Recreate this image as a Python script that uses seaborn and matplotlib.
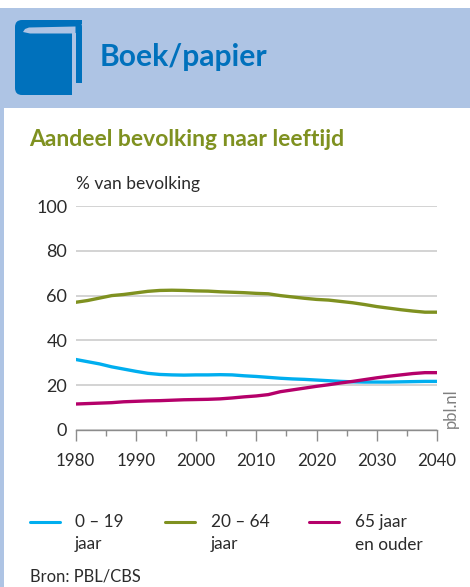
import matplotlib
matplotlib.use("Agg")
import matplotlib.pyplot as plt
from matplotlib.patches import Rectangle, FancyBboxPatch, Polygon
from matplotlib.lines import Line2D
from matplotlib.transforms import Affine2D
import pandas as pd
import seaborn as sns

years = list(range(1980, 2041, 2))
jong = [31.5, 30.5, 29.5, 28.2, 27.2, 26.2, 25.3, 24.8, 24.6, 24.5, 24.6, 24.6, 24.7, 24.6, 24.2, 23.9,
        23.5, 23.1, 22.8, 22.6, 22.3, 22.0, 21.7, 21.5, 21.4, 21.4, 21.4, 21.5, 21.6, 21.7, 21.7]
midden = [57.0, 57.8, 58.9, 60.0, 60.5, 61.2, 61.9, 62.3, 62.4, 62.3, 62.1, 62.0, 61.7, 61.5, 61.3, 61.0,
          60.8, 60.0, 59.4, 58.8, 58.3, 58.0, 57.4, 56.8, 56.0, 55.1, 54.4, 53.7, 53.1, 52.6, 52.6]
oud = [11.6, 11.8, 12.0, 12.2, 12.6, 12.8, 13.0, 13.1, 13.3, 13.5, 13.6, 13.7, 13.9, 14.3, 14.8, 15.2,
       15.8, 17.1, 17.9, 18.7, 19.5, 20.2, 21.0, 21.7, 22.5, 23.3, 24.0, 24.6, 25.2, 25.6, 25.6]
series_names = ["0 – 19\njaar", "20 – 64\njaar", "65 jaar\nen ouder"]
colors = ["#00aeef", "#7f9120", "#b5006a"]
x_ticks = [1980, 1990, 2000, 2010, 2020, 2030, 2040]
x_minor = [1985, 1995, 2005, 2015, 2025, 2035]
y_ticks = [0, 20, 40, 60, 80, 100]

W, H = 470, 587
sns.set_theme(style="white")
plt.rcParams["font.family"] = ["Lato", "DejaVu Sans"]
TXT = "#2b2b2b"
fig = plt.figure(figsize=(W / 100, H / 100), dpi=100, facecolor="white")
PX = Affine2D().scale(1 / W, -1 / H).translate(0, 1) + fig.transFigure

def fx(x): return x / W
def fy(y): return 1 - y / H

def rect(x0, y0, x1, y1, c, z=0):
    fig.patches.append(Rectangle((x0, y0), x1 - x0, y1 - y0, transform=PX, fc=c, ec="none", zorder=z))

BAND = "#aec4e4"
BLUE = "#0071bc"
rect(0, 8, 470, 108, BAND)
rect(0, 108, 4, 587, BAND)

# boek-icoon
def rrect(x0, y0, x1, y1, r, c, z):
    fig.patches.append(FancyBboxPatch((x0 + r, y0 + r), x1 - x0 - 2 * r, y1 - y0 - 2 * r,
                                      boxstyle=f"round,pad={r},rounding_size={r}",
                                      transform=PX, fc=c, ec="none", zorder=z))
rrect(15, 20, 82, 95, 7, BLUE, 1)
rect(76, 20, 82, 24, BLUE, 1.5)
rect(72, 83, 83, 96, BAND, 2)
rrect(75.5, 70, 82, 83, 1.5, BLUE, 2.5)
rect(72, 33, 75.5, 96, BAND, 3)
fig.patches.append(Polygon([(23, 32), (25, 29), (29, 27.5), (75.5, 26.5), (75.5, 33.5), (30, 33.5)],
                           closed=True, transform=PX, fc=BAND, ec="none", zorder=3))
rect(66, 90, 72, 95, BLUE, 3)

fig.text(fx(100), fy(57), "Boek/papier", color=BLUE, fontsize=21.6, fontweight="bold", va="center", ha="left")
fig.text(fx(29), fy(139.5), "Aandeel bevolking naar leeftijd", color="#7f9120", fontsize=16.5, fontweight="bold",
         va="center", ha="left")
fig.text(fx(76), fy(184), "% van bevolking", color=TXT, fontsize=12.5, va="center", ha="left")

ax = fig.add_axes([fx(75.5), fy(430), (437 - 75.5) / W, (430 - 206) / H])
ax.patch.set_alpha(0)
df = pd.DataFrame({"jaar": years * 3,
                   "aandeel": jong + midden + oud,
                   "groep": [n for n in series_names for _ in years]})
sns.lineplot(data=df, x="jaar", y="aandeel", hue="groep", palette=colors, hue_order=series_names,
             linewidth=2.4, legend=False, ax=ax, clip_on=True, zorder=3)
ax.set_xlim(1980, 2040)
ax.set_ylim(0, 100)
ax.set_xlabel("")
ax.set_ylabel("")
ax.set_yticks(y_ticks)
ax.set_xticks(x_ticks)
ax.set_xticks(x_minor, minor=True)
ax.grid(axis="y", color="#cccccc", lw=1.2, zorder=1)
ax.grid(axis="x", visible=False)
for s in ["top", "right", "left"]:
    ax.spines[s].set_visible(False)
ax.spines["bottom"].set_color("#8c8c8c")
ax.spines["bottom"].set_linewidth(1)
ax.tick_params(axis="x", which="major", length=8, width=1, color="#8c8c8c", pad=8.5, labelsize=12.2, labelcolor=TXT, bottom=True)
ax.tick_params(axis="x", which="minor", length=4, width=1, color="#8c8c8c", bottom=True)
ax.tick_params(axis="y", length=0, pad=6, labelsize=13, labelcolor=TXT)

fig.text(fx(451), fy(428), "pbl.nl", rotation=90, color="#808080", fontsize=12, va="bottom", ha="center")

# legenda
for x0, xt, name, c in zip([30, 165, 309], [75, 211, 355], series_names, colors):
    fig.add_artist(Line2D([fx(x0), fx(x0 + 30)], [fy(522), fy(522)], color=c, lw=2.2, transform=fig.transFigure))
    a, b = name.split("\n")
    fig.text(fx(xt), fy(522), a, color=TXT, fontsize=12.4, va="center", ha="left")
    fig.text(fx(xt), fy(544.5), b, color=TXT, fontsize=12.4, va="center", ha="left")

fig.text(fx(30), fy(577), "Bron: PBL/CBS", color=TXT, fontsize=11.9, va="center", ha="left")

fig.savefig("out.png", dpi=100, facecolor="white")
